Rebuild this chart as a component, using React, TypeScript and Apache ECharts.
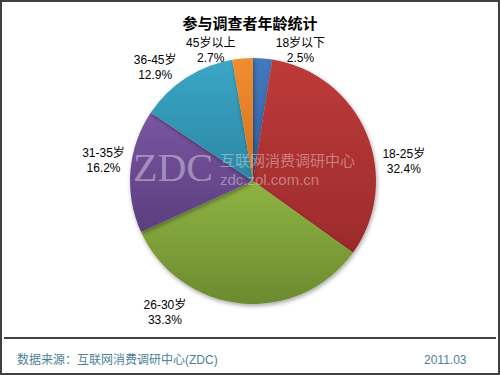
import React, { useEffect, useRef } from "react";
import * as echarts from "echarts";

const title = "参与调查者年龄统计";
const categories = ["18岁以下", "18-25岁", "26-30岁", "31-35岁", "36-45岁", "45岁以上"];
const values = [2.5, 32.4, 33.3, 16.2, 12.9, 2.7];
const sliceColors = [
  ["#4479bf", "#2f5d9e"],
  ["#bf3a3a", "#9c2b2b"],
  ["#8fb443", "#6c8a30"],
  ["#7a56a2", "#5b3e7e"],
  ["#3ba6c6", "#2a87a3"],
  ["#f08e30", "#d6711c"],
];
// small nudges to mimic the reference's label placement
const labelNudge: [number, number][] = [
  [31, 14],
  [12, 36],
  [-69, -13],
  [0, -9],
  [-14, 8],
  [-25, 14],
];
const sourceText = "数据来源：互联网消费调研中心(ZDC)";
const dateText = "2011.03";

export default function App() {
  const ref = useRef<HTMLDivElement>(null);
  useEffect(() => {
    document.body.style.margin = "0";
    const chart = echarts.init(ref.current!, null, { renderer: "svg" });
    const data = categories.map((name, i) => ({
      name,
      value: values[i],
      itemStyle: {
        color: new echarts.graphic.LinearGradient(0, 0, 0, 1, [
          { offset: 0, color: sliceColors[i][0] },
          { offset: 1, color: sliceColors[i][1] },
        ]),
      },
    }));
    const wm = {
      fill: "rgba(255,255,255,0.38)",
      shadowColor: "rgba(0,0,0,0.25)",
      shadowBlur: 2,
      shadowOffsetX: 1,
      shadowOffsetY: 1,
    };
    chart.setOption({
      animation: false,
      backgroundColor: "#ffffff",
      title: {
        text: title,
        left: "center",
        top: 10,
        textStyle: { fontSize: 15, fontWeight: "bold", color: "#000", fontFamily: "Noto Sans CJK SC" },
      },
      graphic: [
        {
          type: "rect",
          shape: { x: 1, y: 1, width: 498, height: 373 },
          style: { fill: "none", stroke: "#404040", lineWidth: 2 },
          silent: true,
        },
        {
          type: "line",
          shape: { x1: 4, y1: 338, x2: 496, y2: 338 },
          style: { stroke: "#000", lineWidth: 1.5 },
          silent: true,
        },
        {
          type: "text",
          left: 17,
          top: 354,
          style: { text: sourceText, fontSize: 12, fill: "#4d7f97", fontFamily: "Liberation Sans, Noto Sans CJK SC" },
        },
        {
          type: "text",
          left: 424,
          top: 354,
          style: { text: dateText, fontSize: 12, fill: "#4d7f97", fontFamily: "Liberation Sans" },
        },
        {
          type: "text",
          left: 133,
          top: 147,
          z: 100,
          style: { ...wm, text: "ZDC", fontSize: 40, fontFamily: "Liberation Serif" },
        },
        {
          type: "text",
          left: 220,
          top: 152,
          z: 100,
          style: { ...wm, text: "互联网消费调研中心", fontSize: 15, lineHeight: 15, fontFamily: "Noto Sans CJK SC" },
        },
        {
          type: "text",
          left: 220,
          top: 172,
          z: 100,
          style: { ...wm, text: "zdc.zol.com.cn", fontSize: 15, lineHeight: 15, fontFamily: "Liberation Sans" },
        },
      ],
      series: [
        {
          type: "pie",
          center: [253, 181],
          radius: 123,
          startAngle: 90,
          clockwise: true,
          avoidLabelOverlap: false,
          data,
          itemStyle: {
            shadowBlur: 4,
            shadowColor: "rgba(0,0,0,0.35)",
            shadowOffsetX: 1,
            shadowOffsetY: 2,
          },
          label: {
            show: true,
            position: "outside",
            formatter: (p: any) => `${p.name}\n${p.value.toFixed(1)}%`,
            fontSize: 12,
            lineHeight: 15,
            color: "#000",
            fontFamily: "Liberation Sans, Noto Sans CJK SC",
            align: "center",
          },
          labelLine: { show: false, length: 22, length2: 0 },
          labelLayout: (params: any) => ({
            align: "center",
            dx: labelNudge[params.dataIndex][0],
            dy: labelNudge[params.dataIndex][1],
          }),
          emphasis: { disabled: true },
        },
      ],
    });
    return () => chart.dispose();
  }, []);
  return <div ref={ref} style={{ width: 500, height: 375 }} />;
}
